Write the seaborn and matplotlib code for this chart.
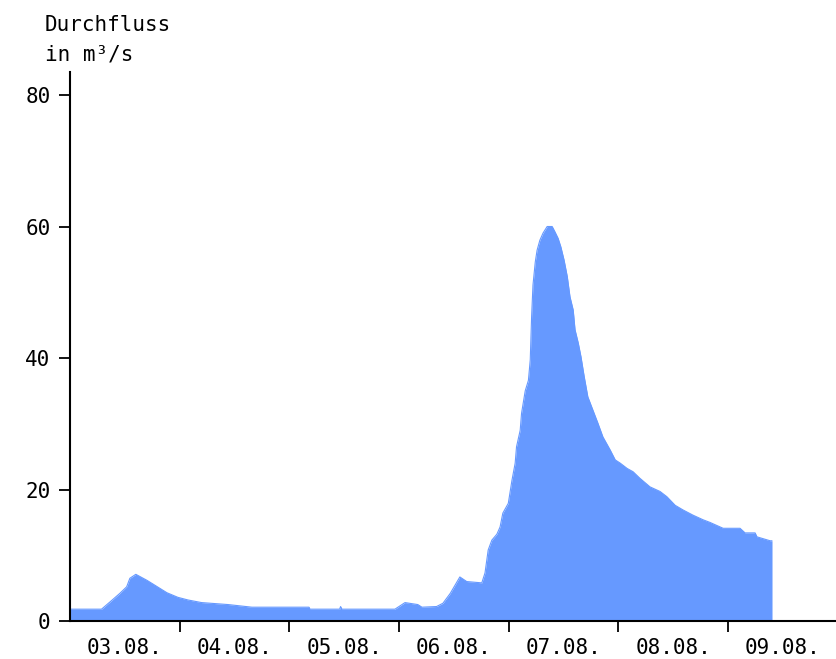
import numpy as np
import pandas as pd
import matplotlib
matplotlib.use("Agg")
import matplotlib.pyplot as plt
import seaborn as sns

# hours since 03.08. 00:00 and discharge in m3/s
hours = [
    0, 6.9, 8.75, 10.9, 12.4, 13.1, 14.4, 16.8, 18.2, 21.2, 23.6, 25.8, 28.8,
    34.6, 39.8, 52.3, 52.5, 59.0, 59.2, 59.5, 71.1, 73.3, 76.1, 77.0, 80.2,
    81.6, 83.2, 85.3, 86.8, 90.1, 90.8, 91.5, 92.3, 93.4, 94.1, 94.7, 95.9,
    96.7, 97.4, 97.7, 98.5, 98.8, 99.6, 100.3, 100.7, 101.0, 101.3, 101.8,
    102.2, 102.8, 103.5, 104.4, 105.5, 106.1, 106.8, 107.4, 108.1, 108.8,
    109.4, 110.1, 110.5, 111.2, 111.8, 112.5, 113.3, 114.4, 115.5, 116.6,
    118.2, 119.3, 120.4, 121.9, 123.2, 124.7, 126.9, 129.1, 130.6, 132.4,
    134.1, 136.3, 138.5, 140.0, 142.9, 146.6, 147.7, 149.9, 150.3, 153.2,
    153.6,
]
flow = [
    1.8, 1.8, 2.9, 4.2, 5.2, 6.5, 7.1, 6.2, 5.6, 4.3, 3.6, 3.2, 2.8,
    2.5, 2.1, 2.1, 1.8, 1.8, 2.2, 1.8, 1.8, 2.8, 2.5, 2.1, 2.2,
    2.7, 4.2, 6.7, 6.0, 5.8, 7.3, 10.8, 12.3, 13.2, 14.3, 16.4, 17.9,
    21.4, 24.0, 26.5, 29.0, 31.6, 35.0, 36.6, 39.7, 46.3, 51.1, 54.6,
    56.4, 57.9, 59.0, 60.0, 60.0, 59.2, 58.2, 56.9, 54.9, 52.4,
    49.3, 47.3, 44.3, 42.3, 40.2, 37.2, 34.1, 32.1, 30.1, 28.0,
    26.0, 24.5, 24.0, 23.2, 22.7, 21.7, 20.4, 19.7, 18.9, 17.6,
    16.9, 16.1, 15.4, 15.0, 14.1, 14.1, 13.4, 13.4, 12.8, 12.2,
    12.2,
]
day_labels = ["03.08.", "04.08.", "05.08.", "06.08.", "07.08.", "08.08.", "09.08."]
y_ticks = [0, 20, 40, 60, 80]

blue = "#6699ff"
mono = "DejaVu Sans Mono"

df = pd.DataFrame({"hours": hours, "flow": flow})

sns.set_style("white")
plt.rcParams["font.family"] = [mono, "DejaVu Sans"]
plt.rcParams["text.color"] = "black"
plt.rcParams["xtick.color"] = "black"
plt.rcParams["ytick.color"] = "black"

fig = plt.figure(figsize=(8.36, 6.59), dpi=100)
ax = fig.add_axes([70 / 836, 38 / 659, 766 / 836, 549 / 659])

sns.lineplot(data=df, x="hours", y="flow", ax=ax, color=blue, linewidth=0.8)
ax.fill_between(df["hours"], df["flow"], 0, color=blue, linewidth=0)

ax.set_xlim(0, 167.6)
ax.set_ylim(0, 83.5)
ax.set_xlabel("")
ax.set_ylabel("")

ax.set_yticks(y_ticks)
ax.set_yticklabels([str(v) for v in y_ticks], fontsize=15)

day_edges = np.arange(1, len(day_labels)) * 24
day_mids = np.arange(len(day_labels)) * 24 + 12
ax.set_xticks(day_edges)
ax.set_xticklabels([])
ax.set_xticks(day_mids, minor=True)
ax.set_xticklabels(day_labels, minor=True, fontsize=15)

ax.tick_params(axis="y", which="major", direction="out", length=8, width=1.3,
               colors="black", pad=6, left=True)
ax.tick_params(axis="x", which="major", direction="out", length=8, width=1.3,
               colors="black", bottom=True)
ax.tick_params(axis="x", which="minor", length=0, pad=12, colors="black")

for side in ["top", "right"]:
    ax.spines[side].set_visible(False)
for side in ["left", "bottom"]:
    ax.spines[side].set_color("black")
    ax.spines[side].set_linewidth(1.5)

fig.text(45 / 836, 1 - 15 / 659, "Durchfluss\nin m³/s", fontsize=15,
         ha="left", va="top", linespacing=1.6, color="black",
         family=[mono, "DejaVu Sans"])

fig.savefig("out.png", dpi=100)
